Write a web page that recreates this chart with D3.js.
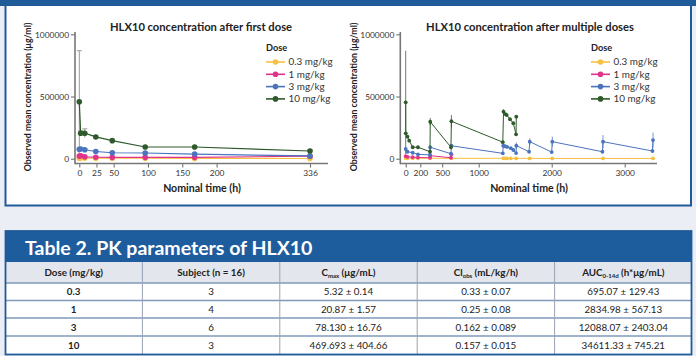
<!DOCTYPE html>
<html><head><meta charset="utf-8">
<script src="https://cdn.jsdelivr.net/npm/d3@7"></script>
<style>body{margin:0;background:#eceef6}svg{display:block;font-family:Lato,'Open Sans',sans-serif}</style>
</head><body><svg id="c" width="696" height="356"></svg>
<script>
// ---------- DATA ----------
const doseLabels = ["0.3 mg/kg", "1 mg/kg", "3 mg/kg", "10 mg/kg"];
const yTicks = [0, 500000, 1000000];

// First dose
const firstTicks = [0, 25, 50, 100, 150, 200, 336];
const firstTimes = [0, 2, 8, 24, 48, 96, 168, 336];
const first03 = [4000, 5000, 5000, 4500, 4000, 3500, 2500, 1500];
const first1 = [21000, 24000, 15000, 12000, 11000, 11000, 11000, 20000];
const first3 = [75000, 78000, 72000, 58000, 48000, 46000, 37000, 22000];
const first10 = [458000, 205000, 205000, 175000, 145000, 94000, 94000, 62000];
const first3Err = [12000, 10000, 8000, 6000, 5000, 5000, 4000, 4000];
const first10Err = [410000, 20000, 35000, 8000, 6000, 5000, 5000, 8000];

// Multiple doses
const multiTicks = [0, 200, 500, 1000, 2000, 3000];
const multi03T = [0, 24, 96, 168, 336, 626, 1336, 1360, 1390, 1440, 1512, 1699, 2008, 2703, 3388];
const multi03V = [4000, 3500, 3000, 3000, 3500, 3000, 3000, 3000, 3000, 2500, 2500, 2500, 2000, 2000, 2000];
const multi1T = [0, 24, 96, 168, 333, 336, 620, 626];
const multi1V = [20000, 15000, 12000, 10000, 8000, 24000, 8000, 35000];
const multi3T = [0, 24, 96, 168, 333, 336, 620, 626, 1330, 1336, 1360, 1390, 1440, 1474, 1512, 1515, 1690, 1699, 2000, 2008, 2695, 2703, 3380, 3388];
const multi3V = [78000, 56000, 48000, 35000, 30000, 92000, 40000, 104000, 43000, 104000, 100000, 95000, 85000, 70000, 45000, 105000, 56000, 137000, 53000, 137000, 56000, 137000, 62000, 150000];
const multi3E = [0, 0, 0, 0, 0, 0, 0, 0, 0, 0, 0, 0, 0, 0, 0, 25000, 0, 27000, 0, 40000, 0, 53000, 0, 59000];
const multi10T = [0, 1, 24, 48, 96, 168, 333, 336, 620, 626, 1330, 1340, 1365, 1384, 1429, 1474, 1512, 1515];
const multi10V = [453000, 204000, 177000, 145000, 92000, 92000, 56000, 297000, 92000, 301000, 133000, 378000, 359000, 351000, 317000, 285000, 196000, 338000];
const multi10E = [415000, 0, 0, 0, 0, 0, 0, 30000, 0, 50000, 0, 20000, 0, 0, 0, 0, 0, 10000];

// Table
const tableTitle = "Table 2. PK parameters of HLX10";
const colDose = ["0.3", "1", "3", "10"];
const colSubject = ["3", "4", "6", "3"];
const colCmax = ["5.32 ± 0.14", "20.87 ± 1.57", "78.130 ± 16.76", "469.693 ± 404.66"];
const colCl = ["0.33 ± 0.07", "0.25 ± 0.08", "0.162 ± 0.089", "0.157 ± 0.015"];
const colAuc = ["695.07 ± 129.43", "2834.98 ± 567.13", "12088.07 ± 2403.04", "34611.33 ± 745.21"];

// ---------- STYLE ----------
const colors = ["#f6c143", "#e0338b", "#4b73be", "#2f5a2b"];
const BLUE = "#1f5b98";
const svg = d3.select("#c");

svg.append("rect").attr("width", 696).attr("height", 356).attr("fill", "#eceef6");
// top panel
svg.append("rect").attr("x", 5.5).attr("y", -10).attr("width", 685.5).attr("height", 215.5)
  .attr("fill", "#fff").attr("stroke", BLUE).attr("stroke-width", 2);
svg.append("rect").attr("x", 0).attr("y", 0).attr("width", 696).attr("height", 6).attr("fill", BLUE);

function mkSeries(t, v, e) { return t.map((d, i) => ({ t: d, v: v[i], e: e ? e[i] : 0 })); }

function drawChart(cfg) {
  const g = svg.append("g");
  const x = d3.scaleLinear().domain(cfg.xDomain).range(cfg.xRange);
  const y = d3.scaleLinear().domain([0, 1000000]).range([158.7, 34.3]);
  // axes
  const ya = g.append("g").attr("transform", `translate(${cfg.axX},0)`)
    .call(d3.axisLeft(y).tickValues(yTicks).tickFormat(d3.format("d")).tickSize(4).tickPadding(2));
  const xa = g.append("g").attr("transform", `translate(0,163.5)`)
    .call(d3.axisBottom(x).tickValues(cfg.ticks).tickFormat(d3.format("d")).tickSize(4).tickPadding(3));
  [ya, xa].forEach(a => {
    a.select(".domain").remove();
    a.selectAll("line").attr("stroke", "#666");
    a.selectAll("text").attr("font-size", 8.4).attr("fill", "#333").attr("font-family", "Lato, sans-serif");
  });
  g.append("line").attr("x1", cfg.axX).attr("x2", cfg.axX).attr("y1", 32).attr("y2", 164.3).attr("stroke", "#777").attr("stroke-width", 1.6);
  g.append("line").attr("x1", cfg.axX).attr("x2", cfg.xEnd).attr("y1", 163.5).attr("y2", 163.5).attr("stroke", "#777").attr("stroke-width", 1.6);
  // titles
  g.append("text").attr("x", cfg.titleX).attr("y", 31).attr("text-anchor", "middle")
    .attr("font-size", 11.2).attr("font-weight", "bold").attr("fill", "#222").text(cfg.title);
  g.append("text").attr("x", cfg.xTitleX).attr("y", 191.5).attr("text-anchor", "middle")
    .attr("font-size", 10.6).attr("font-weight", "bold").attr("fill", "#222").text("Nominal time (h)");
  g.append("text").attr("transform", `translate(${cfg.yTitleX},97) rotate(-90)`).attr("text-anchor", "middle")
    .attr("font-size", 8.8).attr("font-weight", "bold").attr("fill", "#222").text("Observed mean concentration (μg/ml)");
  // series
  const line = d3.line().x(d => x(d.t)).y(d => y(d.v));
  cfg.series.forEach((s, i) => {
    const eb = s.filter(d => d.e > 0);
    const ec = cfg.caps ? "#999" : colors[i];
    g.selectAll(null).data(eb).enter().append("line")
      .attr("x1", d => x(d.t)).attr("x2", d => x(d.t))
      .attr("y1", d => y(d.v - d.e)).attr("y2", d => y(d.v + d.e))
      .attr("stroke", ec).attr("stroke-width", 1).attr("opacity", cfg.caps ? 1 : 0.75);
    if (cfg.caps) {
      g.selectAll(null).data(eb).enter().append("line")
        .attr("x1", d => x(d.t) - 2.5).attr("x2", d => x(d.t) + 2.5)
        .attr("y1", d => y(d.v + d.e)).attr("y2", d => y(d.v + d.e))
        .attr("stroke", ec).attr("stroke-width", 1);
    }
  });
  cfg.series.forEach((s, i) => {
    g.append("path").datum(s).attr("d", line).attr("fill", "none")
      .attr("stroke", colors[i]).attr("stroke-width", cfg.lw);
    g.selectAll(null).data(s).enter().append("circle")
      .attr("cx", d => x(d.t)).attr("cy", d => y(d.v)).attr("r", cfg.r).attr("fill", colors[i]);
  });
  // legend
  const lg = g.append("g").attr("transform", `translate(${cfg.legX},0)`);
  lg.append("text").attr("x", 0).attr("y", 51).attr("font-size", 9.2).attr("font-weight", "bold").attr("fill", "#222").text("Dose");
  doseLabels.forEach((lab, i) => {
    const yy = 62 + i * 12.3;
    lg.append("line").attr("x1", 0).attr("x2", 19).attr("y1", yy).attr("y2", yy).attr("stroke", colors[i]).attr("stroke-width", 1.6);
    lg.append("circle").attr("cx", 9.5).attr("cy", yy).attr("r", 2.8).attr("fill", colors[i]);
    lg.append("text").attr("x", 22.5).attr("y", yy + 3.4).attr("font-size", 9.9).attr("fill", "#333").text(lab);
  });
}

drawChart({
  xDomain: [0, 336], xRange: [79.3, 310], axX: 75, xEnd: 328, ticks: firstTicks,
  title: "HLX10 concentration after first dose", titleX: 201, xTitleX: 202, yTitleX: 31,
  legX: 266, r: 2.8, lw: 1.2, caps: true,
  series: [mkSeries(firstTimes, first03), mkSeries(firstTimes, first1), mkSeries(firstTimes, first3, first3Err), mkSeries(firstTimes, first10, first10Err)]
});
drawChart({
  xDomain: [0, 3000], xRange: [405.7, 624.7], axX: 400.3, xEnd: 657, ticks: multiTicks,
  title: "HLX10 concentration after multiple doses", titleX: 530, xTitleX: 529, yTitleX: 357,
  legX: 591, r: 1.9, lw: 1, caps: false,
  series: [mkSeries(multi03T, multi03V), mkSeries(multi1T, multi1V), mkSeries(multi3T, multi3V, multi3E), mkSeries(multi10T, multi10V, multi10E)]
});

// ---------- TABLE ----------
const tg = svg.append("g");
const colX = [5, 142.4, 279.8, 417.2, 554.6, 692];
const rowY = [283, 300.5, 318, 336, 354];
tg.append("rect").attr("x", 5).attr("y", 231).attr("width", 687).attr("height", 31).attr("fill", "#1e5d9d");
tg.append("text").attr("x", 25).attr("y", 254.5).attr("font-size", 19.5).attr("font-weight", "bold").attr("fill", "#fff").text(tableTitle);
tg.append("rect").attr("x", 5).attr("y", 262).attr("width", 687).attr("height", 21).attr("fill", "#e4e6ee");
tg.append("rect").attr("x", 5).attr("y", 283).attr("width", 687).attr("height", 71).attr("fill", "#fff");
// header
const headers = [
  [{ t: "Dose (mg/kg)" }],
  [{ t: "Subject (n = 16)" }],
  [{ t: "C" }, { t: "max", sub: true }, { t: " (μg/mL)" }],
  [{ t: "Cl" }, { t: "obs", sub: true }, { t: " (mL/kg/h)" }],
  [{ t: "AUC" }, { t: "0-14d", sub: true }, { t: " (h*μg/mL)" }]
];
headers.forEach((h, i) => {
  const tx = tg.append("text").attr("x", (colX[i] + colX[i + 1]) / 2).attr("y", 276)
    .attr("text-anchor", "middle").attr("font-size", 9.8).attr("font-weight", "bold").attr("fill", "#222");
  h.forEach(p => {
    const ts = tx.append("tspan").text(p.t);
    if (p.sub) ts.attr("font-size", 6).attr("dy", 1.5);
    else if (tx.selectAll("tspan").size() > 1) ts.attr("dy", -1.5);
  });
});
const cols = [colDose, colSubject, colCmax, colCl, colAuc];
cols.forEach((c, ci) => {
  c.forEach((v, ri) => {
    tg.append("text").attr("x", (colX[ci] + colX[ci + 1]) / 2).attr("y", (rowY[ri] + rowY[ri + 1]) / 2 + 3.6)
      .attr("text-anchor", "middle").attr("font-size", 9.8).attr("font-weight", ci === 0 ? "bold" : "normal")
      .attr("fill", "#222").text(v);
  });
});
// grid
rowY.slice(0, 4).forEach(yy => {
  tg.append("line").attr("x1", 5).attr("x2", 692).attr("y1", yy).attr("y2", yy).attr("stroke", "#7f9abb").attr("stroke-width", 1.6);
});
colX.slice(1, 5).forEach(xx => {
  tg.append("line").attr("x1", xx).attr("x2", xx).attr("y1", 262).attr("y2", 354).attr("stroke", "#9aa3b3").attr("stroke-width", 1);
});
tg.append("rect").attr("x", 5.5).attr("y", 231).attr("width", 686).attr("height", 123.5).attr("fill", "none").attr("stroke", BLUE).attr("stroke-width", 1.8);
</script></body></html>
